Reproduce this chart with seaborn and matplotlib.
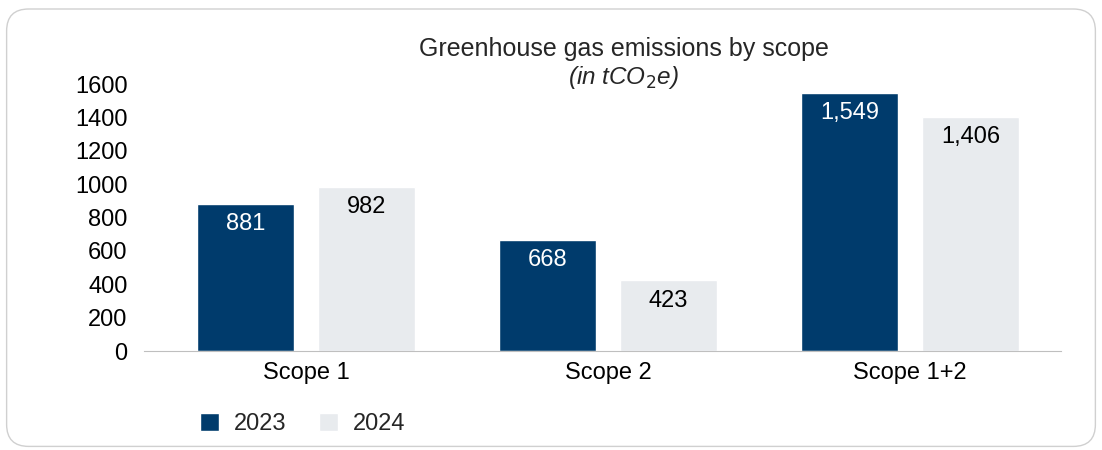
import pandas as pd
import matplotlib.pyplot as plt
import seaborn as sns
from matplotlib.patches import FancyBboxPatch

# chart data
scopes = ['Scope 1', 'Scope 2', 'Scope 1+2']
values_2023 = [881, 668, 1549]
values_2024 = [982, 423, 1406]
years = ['2023', '2024']

DARK = '#003B6C'
LIGHT = '#E8EBEE'


def build_frame():
    rows = []
    for year, vals in zip(years, [values_2023, values_2024]):
        for scope, v in zip(scopes, vals):
            rows.append({'Scope': scope, 'Year': year, 'Value': v})
    return pd.DataFrame(rows)


def plot_data(df):
    sns.set_style('white')
    plt.rcParams['font.family'] = ['Liberation Sans', 'DejaVu Sans']

    fig = plt.figure(figsize=(11.02, 4.5), dpi=100)
    ax = fig.add_axes([0.131, 0.22, 0.832, 0.593])

    # rounded frame around the whole chart
    frame = FancyBboxPatch((0.006, 0.008), 0.988, 0.972, boxstyle='round,pad=0,rounding_size=0.02',
                           transform=fig.transFigure, facecolor='none', edgecolor='#D0D0D0',
                           linewidth=1.0, mutation_aspect=1102 / 450)
    fig.patches.append(frame)

    sns.barplot(data=df, x='Scope', y='Value', hue='Year', palette=[DARK, LIGHT],
                saturation=1, width=0.8, gap=0.2, ax=ax, legend=True)

    for container, color in zip(ax.containers, ['white', 'black']):
        for bar in container:
            h = bar.get_height()
            ax.annotate(f'{h:,.0f}', (bar.get_x() + bar.get_width() / 2, h),
                        xytext=(0, -14.5), textcoords='offset points',
                        ha='center', va='center', fontsize=17, color=color)

    ax.set_ylim(0, 1600)
    ax.set_xlim(-0.535, 2.5)
    ax.set_yticks(range(0, 1601, 200))
    ax.tick_params(axis='both', length=0, labelsize=17, colors='black')
    ax.tick_params(axis='y', pad=12)
    ax.tick_params(axis='x', pad=8)
    ax.set_xlabel('')
    ax.set_ylabel('')
    for side in ['top', 'right', 'left']:
        ax.spines[side].set_visible(False)
    ax.spines['bottom'].set_color('#BFBFBF')

    fig.text(0.566, 0.891, 'Greenhouse gas emissions by scope', ha='center', va='center', fontsize=18)
    fig.text(0.566, 0.827, r'(in tCO$_2$e)', ha='center', va='center', fontsize=17.5, style='italic')

    ax.legend(loc='center left', bbox_to_anchor=(0.1815, 0.058), bbox_transform=fig.transFigure,
              ncol=2, frameon=False, fontsize=17, handlelength=0.8, handleheight=0.8,
              handletextpad=0.63, columnspacing=1.4, borderpad=0, borderaxespad=0)

    fig.savefig('out.png', dpi=100)


def main():
    df = build_frame()
    plot_data(df)


if __name__ == '__main__':
    main()
